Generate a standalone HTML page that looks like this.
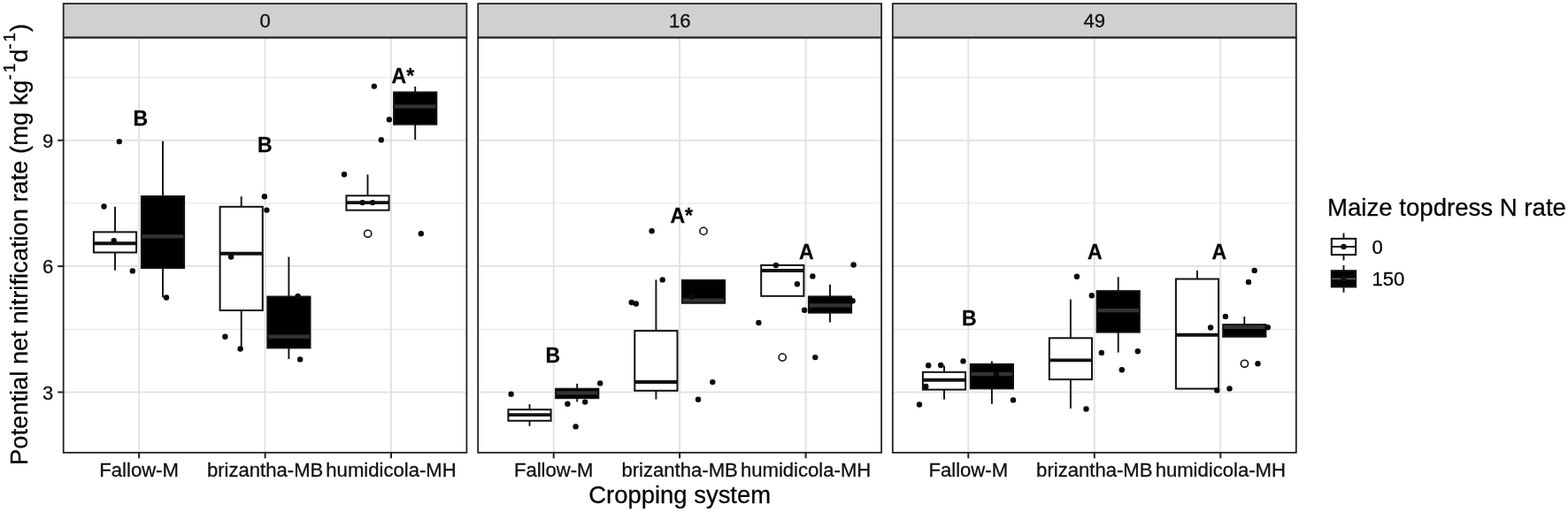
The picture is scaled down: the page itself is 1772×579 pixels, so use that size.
<!DOCTYPE html>
<html lang="en"><head><meta charset="utf-8"><title>Potential net nitrification rate by cropping system</title>
<style>html,body{margin:0;padding:0;background:#fff}body{width:1772px;height:579px;overflow:hidden}svg{display:block}svg text{stroke:#111;stroke-width:.3px}</style>
</head><body>
<svg width="1772" height="579" viewBox="0 0 1772 579" font-family='"Liberation Sans", Arial, Helvetica, sans-serif' >
<rect width="1772" height="579" fill="#fff"/>
<g stroke="#e3e3e3">
<line x1="71.7" x2="527.4" y1="372.3" y2="372.3" stroke-width="1.0"/>
<line x1="71.7" x2="527.4" y1="229.9" y2="229.9" stroke-width="1.0"/>
<line x1="71.7" x2="527.4" y1="87.5" y2="87.5" stroke-width="1.0"/>
<line x1="71.7" x2="527.4" y1="443.5" y2="443.5" stroke-width="2.0"/>
<line x1="71.7" x2="527.4" y1="301.1" y2="301.1" stroke-width="2.0"/>
<line x1="71.7" x2="527.4" y1="158.7" y2="158.7" stroke-width="2.0"/>
<line x1="157.1" x2="157.1" y1="42.45" y2="511.8" stroke-width="2.0"/>
<line x1="299.6" x2="299.6" y1="42.45" y2="511.8" stroke-width="2.0"/>
<line x1="442.0" x2="442.0" y1="42.45" y2="511.8" stroke-width="2.0"/>
</g>
<g stroke="#e3e3e3">
<line x1="540.2" x2="996.1" y1="372.3" y2="372.3" stroke-width="1.0"/>
<line x1="540.2" x2="996.1" y1="229.9" y2="229.9" stroke-width="1.0"/>
<line x1="540.2" x2="996.1" y1="87.5" y2="87.5" stroke-width="1.0"/>
<line x1="540.2" x2="996.1" y1="443.5" y2="443.5" stroke-width="2.0"/>
<line x1="540.2" x2="996.1" y1="301.1" y2="301.1" stroke-width="2.0"/>
<line x1="540.2" x2="996.1" y1="158.7" y2="158.7" stroke-width="2.0"/>
<line x1="625.7" x2="625.7" y1="42.45" y2="511.8" stroke-width="2.0"/>
<line x1="768.1" x2="768.1" y1="42.45" y2="511.8" stroke-width="2.0"/>
<line x1="910.6" x2="910.6" y1="42.45" y2="511.8" stroke-width="2.0"/>
</g>
<g stroke="#e3e3e3">
<line x1="1008.8" x2="1464.8" y1="372.3" y2="372.3" stroke-width="1.0"/>
<line x1="1008.8" x2="1464.8" y1="229.9" y2="229.9" stroke-width="1.0"/>
<line x1="1008.8" x2="1464.8" y1="87.5" y2="87.5" stroke-width="1.0"/>
<line x1="1008.8" x2="1464.8" y1="443.5" y2="443.5" stroke-width="2.0"/>
<line x1="1008.8" x2="1464.8" y1="301.1" y2="301.1" stroke-width="2.0"/>
<line x1="1008.8" x2="1464.8" y1="158.7" y2="158.7" stroke-width="2.0"/>
<line x1="1094.3" x2="1094.3" y1="42.45" y2="511.8" stroke-width="2.0"/>
<line x1="1236.8" x2="1236.8" y1="42.45" y2="511.8" stroke-width="2.0"/>
<line x1="1379.3" x2="1379.3" y1="42.45" y2="511.8" stroke-width="2.0"/>
</g>
<!--DATA-->
<line x1="130.0" x2="130.0" y1="233.7" y2="262.4" stroke="#111" stroke-width="1.9"/>
<line x1="130.0" x2="130.0" y1="285.5" y2="305.8" stroke="#111" stroke-width="1.9"/>
<rect x="105.9" y="262.4" width="48.2" height="23.1" fill="#fff"/>
<line x1="105.9" x2="154.1" y1="275.3" y2="275.3" stroke="#111" stroke-width="3.9"/>
<rect x="105.9" y="262.4" width="48.2" height="23.1" fill="none" stroke="#111" stroke-width="2" stroke-linejoin="miter"/>
<line x1="184.0" x2="184.0" y1="159.6" y2="222.0" stroke="#111" stroke-width="1.9"/>
<line x1="184.0" x2="184.0" y1="303.0" y2="336.2" stroke="#111" stroke-width="1.9"/>
<rect x="159.9" y="222.0" width="48.2" height="81.0" fill="#000"/>
<line x1="159.9" x2="208.1" y1="267.4" y2="267.4" stroke="#333" stroke-width="4.2"/>
<rect x="159.9" y="222.0" width="48.2" height="81.0" fill="none" stroke="#111" stroke-width="2" stroke-linejoin="miter"/>
<line x1="272.7" x2="272.7" y1="222.2" y2="233.8" stroke="#111" stroke-width="1.9"/>
<line x1="272.7" x2="272.7" y1="351.0" y2="394.5" stroke="#111" stroke-width="1.9"/>
<rect x="248.6" y="233.8" width="48.2" height="117.2" fill="#fff"/>
<line x1="248.6" x2="296.8" y1="286.8" y2="286.8" stroke="#111" stroke-width="3.9"/>
<rect x="248.6" y="233.8" width="48.2" height="117.2" fill="none" stroke="#111" stroke-width="2" stroke-linejoin="miter"/>
<line x1="326.4" x2="326.4" y1="290.5" y2="335.5" stroke="#111" stroke-width="1.9"/>
<line x1="326.4" x2="326.4" y1="393.4" y2="406.0" stroke="#111" stroke-width="1.9"/>
<rect x="302.3" y="335.5" width="48.2" height="57.9" fill="#000"/>
<line x1="302.3" x2="350.5" y1="380.7" y2="380.7" stroke="#333" stroke-width="4.2"/>
<rect x="302.3" y="335.5" width="48.2" height="57.9" fill="none" stroke="#111" stroke-width="2" stroke-linejoin="miter"/>
<line x1="415.5" x2="415.5" y1="197.4" y2="221.3" stroke="#111" stroke-width="1.9"/>
<rect x="391.4" y="221.3" width="48.2" height="16.4" fill="#fff"/>
<line x1="391.4" x2="439.6" y1="229.1" y2="229.1" stroke="#111" stroke-width="3.9"/>
<rect x="391.4" y="221.3" width="48.2" height="16.4" fill="none" stroke="#111" stroke-width="2" stroke-linejoin="miter"/>
<line x1="469.2" x2="469.2" y1="97.9" y2="104.4" stroke="#111" stroke-width="1.9"/>
<line x1="469.2" x2="469.2" y1="140.6" y2="158.0" stroke="#111" stroke-width="1.9"/>
<rect x="445.1" y="104.4" width="48.2" height="36.2" fill="#000"/>
<line x1="445.1" x2="493.3" y1="120.4" y2="120.4" stroke="#333" stroke-width="4.2"/>
<rect x="445.1" y="104.4" width="48.2" height="36.2" fill="none" stroke="#111" stroke-width="2" stroke-linejoin="miter"/>
<line x1="598.5" x2="598.5" y1="457.1" y2="463.2" stroke="#111" stroke-width="1.9"/>
<line x1="598.5" x2="598.5" y1="475.8" y2="481.8" stroke="#111" stroke-width="1.9"/>
<rect x="574.4" y="463.2" width="48.2" height="12.6" fill="#fff"/>
<line x1="574.4" x2="622.6" y1="469.1" y2="469.1" stroke="#111" stroke-width="3.9"/>
<rect x="574.4" y="463.2" width="48.2" height="12.6" fill="none" stroke="#111" stroke-width="2" stroke-linejoin="miter"/>
<line x1="652.2" x2="652.2" y1="433.9" y2="439.7" stroke="#111" stroke-width="1.9"/>
<line x1="652.2" x2="652.2" y1="450.2" y2="454.3" stroke="#111" stroke-width="1.9"/>
<rect x="628.1" y="439.7" width="48.2" height="10.5" fill="#000"/>
<line x1="628.1" x2="676.3" y1="444.4" y2="444.4" stroke="#333" stroke-width="4.2"/>
<rect x="628.1" y="439.7" width="48.2" height="10.5" fill="none" stroke="#111" stroke-width="2" stroke-linejoin="miter"/>
<line x1="741.4" x2="741.4" y1="316.4" y2="374.1" stroke="#111" stroke-width="1.9"/>
<line x1="741.4" x2="741.4" y1="441.8" y2="451.6" stroke="#111" stroke-width="1.9"/>
<rect x="717.3" y="374.1" width="48.2" height="67.7" fill="#fff"/>
<line x1="717.3" x2="765.5" y1="432.0" y2="432.0" stroke="#111" stroke-width="3.9"/>
<rect x="717.3" y="374.1" width="48.2" height="67.7" fill="none" stroke="#111" stroke-width="2" stroke-linejoin="miter"/>
<rect x="770.9" y="316.9" width="48.2" height="25.8" fill="#000"/>
<line x1="770.9" x2="819.1" y1="339.6" y2="339.6" stroke="#333" stroke-width="4.2"/>
<rect x="770.9" y="316.9" width="48.2" height="25.8" fill="none" stroke="#111" stroke-width="2" stroke-linejoin="miter"/>
<rect x="860.2" y="299.9" width="48.2" height="34.9" fill="#fff"/>
<line x1="860.2" x2="908.4" y1="306.0" y2="306.0" stroke="#111" stroke-width="3.9"/>
<rect x="860.2" y="299.9" width="48.2" height="34.9" fill="none" stroke="#111" stroke-width="2" stroke-linejoin="miter"/>
<line x1="938.0" x2="938.0" y1="321.7" y2="335.4" stroke="#111" stroke-width="1.9"/>
<line x1="938.0" x2="938.0" y1="353.6" y2="364.4" stroke="#111" stroke-width="1.9"/>
<rect x="913.9" y="335.4" width="48.2" height="18.2" fill="#000"/>
<line x1="913.9" x2="962.1" y1="345.4" y2="345.4" stroke="#333" stroke-width="4.2"/>
<rect x="913.9" y="335.4" width="48.2" height="18.2" fill="none" stroke="#111" stroke-width="2" stroke-linejoin="miter"/>
<line x1="1067.0" x2="1067.0" y1="413.6" y2="420.8" stroke="#111" stroke-width="1.9"/>
<line x1="1067.0" x2="1067.0" y1="440.6" y2="451.7" stroke="#111" stroke-width="1.9"/>
<rect x="1042.9" y="420.8" width="48.2" height="19.8" fill="#fff"/>
<line x1="1042.9" x2="1091.1" y1="429.7" y2="429.7" stroke="#111" stroke-width="3.9"/>
<rect x="1042.9" y="420.8" width="48.2" height="19.8" fill="none" stroke="#111" stroke-width="2" stroke-linejoin="miter"/>
<line x1="1120.9" x2="1120.9" y1="408.5" y2="411.9" stroke="#111" stroke-width="1.9"/>
<line x1="1120.9" x2="1120.9" y1="439.4" y2="456.8" stroke="#111" stroke-width="1.9"/>
<rect x="1096.8" y="411.9" width="48.2" height="27.5" fill="#000"/>
<line x1="1096.8" x2="1145.0" y1="423.1" y2="423.1" stroke="#333" stroke-width="4.2"/>
<rect x="1096.8" y="411.9" width="48.2" height="27.5" fill="none" stroke="#111" stroke-width="2" stroke-linejoin="miter"/>
<line x1="1209.9" x2="1209.9" y1="338.5" y2="382.3" stroke="#111" stroke-width="1.9"/>
<line x1="1209.9" x2="1209.9" y1="429.1" y2="461.9" stroke="#111" stroke-width="1.9"/>
<rect x="1185.8" y="382.3" width="48.2" height="46.8" fill="#fff"/>
<line x1="1185.8" x2="1234.0" y1="407.4" y2="407.4" stroke="#111" stroke-width="3.9"/>
<rect x="1185.8" y="382.3" width="48.2" height="46.8" fill="none" stroke="#111" stroke-width="2" stroke-linejoin="miter"/>
<line x1="1263.7" x2="1263.7" y1="313.2" y2="329.1" stroke="#111" stroke-width="1.9"/>
<line x1="1263.7" x2="1263.7" y1="375.6" y2="398.6" stroke="#111" stroke-width="1.9"/>
<rect x="1239.6" y="329.1" width="48.2" height="46.5" fill="#000"/>
<line x1="1239.6" x2="1287.8" y1="351.2" y2="351.2" stroke="#333" stroke-width="4.2"/>
<rect x="1239.6" y="329.1" width="48.2" height="46.5" fill="none" stroke="#111" stroke-width="2" stroke-linejoin="miter"/>
<line x1="1353.0" x2="1353.0" y1="306.1" y2="315.5" stroke="#111" stroke-width="1.9"/>
<rect x="1328.9" y="315.5" width="48.2" height="124.1" fill="#fff"/>
<line x1="1328.9" x2="1377.1" y1="378.8" y2="378.8" stroke="#111" stroke-width="3.9"/>
<rect x="1328.9" y="315.5" width="48.2" height="124.1" fill="none" stroke="#111" stroke-width="2" stroke-linejoin="miter"/>
<line x1="1406.3" x2="1406.3" y1="358.0" y2="367.1" stroke="#111" stroke-width="1.9"/>
<rect x="1382.2" y="367.1" width="48.2" height="13.6" fill="#000"/>
<line x1="1382.2" x2="1430.4" y1="369.9" y2="369.9" stroke="#333" stroke-width="4.2"/>
<rect x="1382.2" y="367.1" width="48.2" height="13.6" fill="none" stroke="#111" stroke-width="2" stroke-linejoin="miter"/>
<circle cx="415.7" cy="264.3" r="4.1" fill="#fff" stroke="#111" stroke-width="1.6"/>
<circle cx="795" cy="261.4" r="4.1" fill="#fff" stroke="#111" stroke-width="1.6"/>
<circle cx="884.2" cy="404.1" r="4.1" fill="#fff" stroke="#111" stroke-width="1.6"/>
<circle cx="1406.4" cy="411.3" r="4.1" fill="#fff" stroke="#111" stroke-width="1.6"/>
<g fill="#0a0a0a">
<circle cx="117.5" cy="233.5" r="3.2"/>
<circle cx="128.7" cy="272.1" r="3.2"/>
<circle cx="134.8" cy="160.1" r="3.2"/>
<circle cx="149.8" cy="306.4" r="3.2"/>
<circle cx="188" cy="336.5" r="3.2"/>
<circle cx="298.9" cy="222.2" r="3.2"/>
<circle cx="301.4" cy="237.6" r="3.2"/>
<circle cx="261.1" cy="290.5" r="3.2"/>
<circle cx="336.6" cy="335" r="3.2"/>
<circle cx="254.4" cy="380.7" r="3.2"/>
<circle cx="271.6" cy="394.5" r="3.2"/>
<circle cx="339.2" cy="406.4" r="3.2"/>
<circle cx="422.8" cy="97.6" r="3.2"/>
<circle cx="439.9" cy="135.2" r="3.2"/>
<circle cx="430.8" cy="158.2" r="3.2"/>
<circle cx="389" cy="197.3" r="3.2"/>
<circle cx="409.6" cy="229.1" r="3.2"/>
<circle cx="421.1" cy="229.1" r="3.2"/>
<circle cx="475.8" cy="264.3" r="3.2"/>
<circle cx="577.6" cy="445.8" r="3.2"/>
<circle cx="678.2" cy="433.4" r="3.2"/>
<circle cx="641.4" cy="456.8" r="3.2"/>
<circle cx="661.2" cy="454.6" r="3.2"/>
<circle cx="650.6" cy="482.4" r="3.2"/>
<circle cx="736.6" cy="261.2" r="3.2"/>
<circle cx="748.7" cy="316.4" r="3.2"/>
<circle cx="713.7" cy="342" r="3.2"/>
<circle cx="718.8" cy="343.5" r="3.2"/>
<circle cx="805.3" cy="432.1" r="3.2"/>
<circle cx="789" cy="451.8" r="3.2"/>
<circle cx="876.9" cy="300" r="3.2"/>
<circle cx="900.9" cy="321.2" r="3.2"/>
<circle cx="918.4" cy="312.4" r="3.2"/>
<circle cx="964.6" cy="299.5" r="3.2"/>
<circle cx="909.1" cy="350.8" r="3.2"/>
<circle cx="963.6" cy="340.3" r="3.2"/>
<circle cx="857.4" cy="364.9" r="3.2"/>
<circle cx="921.3" cy="404.1" r="3.2"/>
<circle cx="1049.2" cy="413.2" r="3.2"/>
<circle cx="1063.2" cy="413" r="3.2"/>
<circle cx="1088.5" cy="408.4" r="3.2"/>
<circle cx="1046.3" cy="437" r="3.2"/>
<circle cx="1039" cy="457.5" r="3.2"/>
<circle cx="1145" cy="452.4" r="3.2"/>
<circle cx="1216.9" cy="312.8" r="3.2"/>
<circle cx="1233.8" cy="334.3" r="3.2"/>
<circle cx="1244.8" cy="398.9" r="3.2"/>
<circle cx="1285.8" cy="397.2" r="3.2"/>
<circle cx="1267.8" cy="418.2" r="3.2"/>
<circle cx="1227.5" cy="462.5" r="3.2"/>
<circle cx="1417.7" cy="305.9" r="3.2"/>
<circle cx="1411" cy="318.9" r="3.2"/>
<circle cx="1384.9" cy="357.9" r="3.2"/>
<circle cx="1368.1" cy="370.5" r="3.2"/>
<circle cx="1375.3" cy="441.4" r="3.2"/>
<circle cx="1389.5" cy="439.4" r="3.2"/>
<circle cx="1421.5" cy="411.3" r="3.2"/>
<circle cx="1432.8" cy="370.3" r="3.2"/>
<circle cx="1125.9" cy="423.1" r="3.2"/>
<circle cx="781.4" cy="335.5" r="3.2"/>
</g>
<g font-weight="bold" font-size="23" fill="#000" text-anchor="middle">
<text x="158.7" y="142.0">B</text>
<text x="299.2" y="171.8">B</text>
<text x="455.3" y="93.7">A*</text>
<text x="624.8" y="409.7">B</text>
<text x="770.2" y="251.6">A*</text>
<text x="911.4" y="292.9">A</text>
<text x="1095.2" y="367.9">B</text>
<text x="1237.3" y="292.9">A</text>
<text x="1377.8" y="292.5">A</text>
</g>
<rect x="71.7" y="4.1" width="455.7" height="38.4" fill="#d0d0d0" stroke="#222" stroke-width="1.8"/>
<rect x="71.7" y="42.45" width="455.7" height="469.4" fill="none" stroke="#222" stroke-width="1.8"/>
<text x="299.6" y="31" font-size="22.1" fill="#111" text-anchor="middle">0</text>
<line x1="157.1" x2="157.1" y1="511.8" y2="518.3" stroke="#222" stroke-width="2"/>
<text x="157.1" y="538.6" font-size="22.1" fill="#111" text-anchor="middle">Fallow-M</text>
<line x1="299.6" x2="299.6" y1="511.8" y2="518.3" stroke="#222" stroke-width="2"/>
<text x="299.6" y="538.6" font-size="22.1" fill="#111" text-anchor="middle">brizantha-MB</text>
<line x1="442.0" x2="442.0" y1="511.8" y2="518.3" stroke="#222" stroke-width="2"/>
<text x="442.0" y="538.6" font-size="22.1" fill="#111" text-anchor="middle">humidicola-MH</text>
<rect x="540.2" y="4.1" width="455.9" height="38.4" fill="#d0d0d0" stroke="#222" stroke-width="1.8"/>
<rect x="540.2" y="42.45" width="455.9" height="469.4" fill="none" stroke="#222" stroke-width="1.8"/>
<text x="768.2" y="31" font-size="22.1" fill="#111" text-anchor="middle">16</text>
<line x1="625.7" x2="625.7" y1="511.8" y2="518.3" stroke="#222" stroke-width="2"/>
<text x="625.7" y="538.6" font-size="22.1" fill="#111" text-anchor="middle">Fallow-M</text>
<line x1="768.1" x2="768.1" y1="511.8" y2="518.3" stroke="#222" stroke-width="2"/>
<text x="768.1" y="538.6" font-size="22.1" fill="#111" text-anchor="middle">brizantha-MB</text>
<line x1="910.6" x2="910.6" y1="511.8" y2="518.3" stroke="#222" stroke-width="2"/>
<text x="910.6" y="538.6" font-size="22.1" fill="#111" text-anchor="middle">humidicola-MH</text>
<rect x="1008.8" y="4.1" width="456.0" height="38.4" fill="#d0d0d0" stroke="#222" stroke-width="1.8"/>
<rect x="1008.8" y="42.45" width="456.0" height="469.4" fill="none" stroke="#222" stroke-width="1.8"/>
<text x="1236.8" y="31" font-size="22.1" fill="#111" text-anchor="middle">49</text>
<line x1="1094.3" x2="1094.3" y1="511.8" y2="518.3" stroke="#222" stroke-width="2"/>
<text x="1094.3" y="538.6" font-size="22.1" fill="#111" text-anchor="middle">Fallow-M</text>
<line x1="1236.8" x2="1236.8" y1="511.8" y2="518.3" stroke="#222" stroke-width="2"/>
<text x="1236.8" y="538.6" font-size="22.1" fill="#111" text-anchor="middle">brizantha-MB</text>
<line x1="1379.3" x2="1379.3" y1="511.8" y2="518.3" stroke="#222" stroke-width="2"/>
<text x="1379.3" y="538.6" font-size="22.1" fill="#111" text-anchor="middle">humidicola-MH</text>
<line x1="65.2" x2="71.7" y1="443.5" y2="443.5" stroke="#222" stroke-width="2"/>
<text x="60.2" y="451.8" font-size="22.1" fill="#111" text-anchor="end">3</text>
<line x1="65.2" x2="71.7" y1="301.1" y2="301.1" stroke="#222" stroke-width="2"/>
<text x="60.2" y="309.4" font-size="22.1" fill="#111" text-anchor="end">6</text>
<line x1="65.2" x2="71.7" y1="158.7" y2="158.7" stroke="#222" stroke-width="2"/>
<text x="60.2" y="167.0" font-size="22.1" fill="#111" text-anchor="end">9</text>
<text x="768.2" y="569.1" font-size="27.45" fill="#000" text-anchor="middle">Cropping system</text>
<text transform="translate(31.3,525.9) rotate(-90)" font-size="27.3" fill="#000">Potential net nitrification rate (mg kg<tspan font-size="19.1" dy="-14.5">-</tspan><tspan font-size="19.1" dx="1.8">1</tspan><tspan dy="14.5" dx="0.8">d</tspan><tspan font-size="19.1" dy="-14.5">-</tspan><tspan font-size="19.1" dx="1.8">1</tspan><tspan dy="14.5" dx="0.8">)</tspan></text>
<text x="1500.0" y="243.7" font-size="27.6" fill="#000">Maize topdress N rate</text>
<line x1="1518.5" x2="1518.5" y1="263.6" y2="294.4" stroke="#111" stroke-width="1.9"/>
<rect x="1504.8" y="269.9" width="27.4" height="18.2" fill="#fff" stroke="#111" stroke-width="2"/>
<line x1="1504.8" x2="1532.2" y1="279.0" y2="279.0" stroke="#111" stroke-width="1.9"/>
<circle cx="1518.5" cy="279.0" r="3.2" fill="#111"/>
<text x="1550.4" y="286.7" font-size="22.1" fill="#000">0</text>
<line x1="1518.5" x2="1518.5" y1="299.9" y2="330.7" stroke="#111" stroke-width="1.9"/>
<rect x="1504.8" y="306.2" width="27.4" height="18.2" fill="#000" stroke="#111" stroke-width="2"/>
<line x1="1504.8" x2="1532.2" y1="315.3" y2="315.3" stroke="#555" stroke-width="1.9"/>
<circle cx="1518.5" cy="315.3" r="3.2" fill="#111"/>
<text x="1550.4" y="323.0" font-size="22.1" fill="#000">150</text>
</svg>
</body></html>
